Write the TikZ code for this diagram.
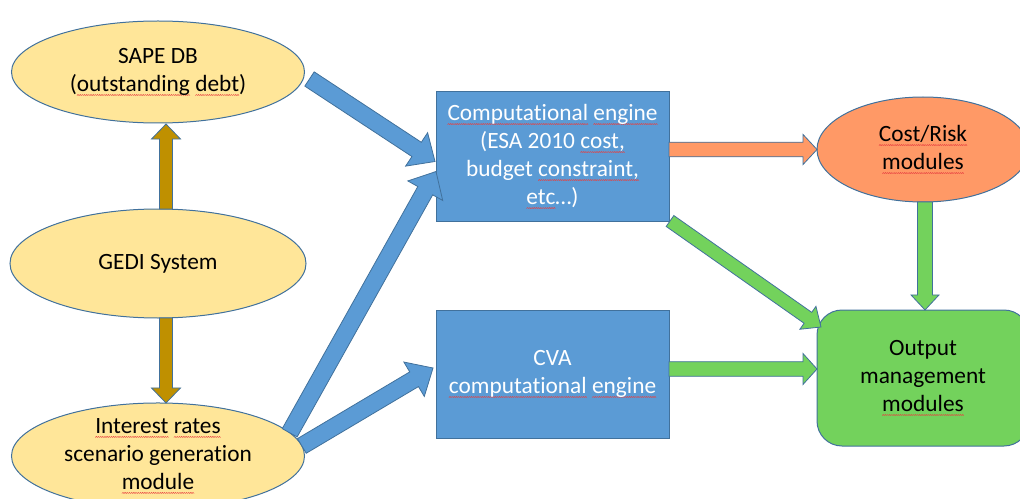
\documentclass[tikz,border=0pt]{standalone}
\usepackage{fontspec}
\setmainfont{Carlito}[Ligatures={NoCommon}]
\usetikzlibrary{shapes.geometric,calc}

\definecolor{sand}{HTML}{FFE699}
\definecolor{rim}{HTML}{41719C}
\definecolor{steel}{HTML}{5B9BD5}
\definecolor{ochre}{HTML}{BF9000}
\definecolor{apricot}{HTML}{FF9966}
\definecolor{leaf}{HTML}{73D25C}
\definecolor{squig}{HTML}{E84040}

% red wavy underline of the spell checker
\newsavebox\wavebox
\newcommand\sq[1]{\setbox0\hbox{#1}%
  \rlap{\lower3pt\hbox to\wd0{\xleaders\copy\wavebox\hfill}}\box0\relax}

% block arrow: style, from, to, shaft half width, head half width, head length
\newcommand\blockarrow[6]{%
  \path (#2) coordinate (ba-s) (#3) coordinate (ba-e);
  \path ($(ba-e)!#6!(ba-s)$) coordinate (ba-h);
  \draw[#1] ($(ba-s)!#4!90:(ba-e)$) -- ($(ba-h)!#4!-90:(ba-s)$)
    -- ($(ba-h)!#5!-90:(ba-s)$) -- (ba-e) -- ($(ba-h)!#5!90:(ba-s)$)
    -- ($(ba-h)!#4!90:(ba-s)$) -- ($(ba-s)!#4!-90:(ba-e)$) -- cycle;
}

\tikzset{
  base/.style={draw=rim, line width=0.75pt, inner sep=0pt, outer sep=0pt,
    align=center, font=\fontsize{17.5}{21}\selectfont},
  oval/.style={base, ellipse, fill=sand},
  engine/.style={base, rectangle, fill=steel, text=white},
  costnode/.style={base, ellipse, fill=apricot},
  outnode/.style={base, rectangle, rounded corners=18.75pt, fill=leaf},
  goldarr/.style={draw=rim, line width=0.6pt, fill=ochre, line join=miter},
  bluearr/.style={draw=rim, line width=0.6pt, fill=steel, line join=miter},
  orangearr/.style={draw=rim, line width=0.6pt, fill=apricot, line join=miter},
  greenarr/.style={draw=rim, line width=0.6pt, fill=leaf, line join=miter},
}

\begin{document}
\sbox\wavebox{\begin{pgfpicture}%
  \pgfpathmoveto{\pgfpointorigin}%
  \pgfpathlineto{\pgfpoint{0.8pt}{0.8pt}}%
  \pgfpathlineto{\pgfpoint{1.6pt}{0pt}}%
  \pgfsetstrokecolor{squig}\pgfsetlinewidth{0.35pt}%
  \pgfusepath{stroke}%
  \pgfresetboundingbox
  \pgfpathrectangle{\pgfpointorigin}{\pgfpoint{1.6pt}{0.8pt}}%
  \pgfusepath{use as bounding box}%
\end{pgfpicture}}%
\begin{tikzpicture}[x=0.75pt, y=-0.75pt]
\useasboundingbox (0,0) rectangle (1020,499);
\clip (0,0) rectangle (1020,499);

% sources
\node[oval, minimum width=293*0.75pt, minimum height=102*0.75pt] (sape) at (158,72)
  {SAPE DB\\(\sq{outstanding} \sq{debt})};
\node[oval, minimum width=296*0.75pt, minimum height=109*0.75pt] (gedi) at (158,263.5)
  {GEDI System};
\node[oval, minimum width=293*0.75pt, minimum height=106*0.75pt] (irate) at (158,456)
  {\sq{Interest} \sq{rates}\\scenario generation\\\sq{module}};

% engines
\node[engine, minimum width=233*0.75pt, minimum height=129*0.75pt] (comp) at (552.5,156.5)
  {\sq{Computational} \sq{engine}\\(ESA 2010 \sq{cost,}\\budget \sq{constraint,}\\\sq{etc}\dots)};
\node[engine, minimum width=233*0.75pt, minimum height=128*0.75pt] (cva) at (552.5,374)
  {CVA\\\sq{computational} \sq{engine}};

% results
\node[costnode, minimum width=212*0.75pt, minimum height=105*0.75pt] (cost) at (923,149.5)
  {\sq{Cost/Risk}\\\sq{modules}};
\node[outnode, minimum width=212*0.75pt, minimum height=136*0.75pt] (out) at (923,378)
  {Output\\management\\\sq{modules}};

% GEDI feeds
\blockarrow{goldarr}{$(gedi.north)+(8,0)$}{$(sape.south)+(8,1)$}{4.9pt}{10.9pt}{11.3pt}
\blockarrow{goldarr}{$(gedi.south)+(8,0)$}{$(irate.north)+(8,0)$}{4.9pt}{10.9pt}{11.3pt}

% inputs to the engines
\blockarrow{bluearr}{$(sape.east)+(5,7)$}{$(comp.west)+(-1,5)$}{6.4pt}{15pt}{16.5pt}
\blockarrow{bluearr}{irate.10}{$(comp.west)+(0,15)$}{6.4pt}{15pt}{16.5pt}
\blockarrow{bluearr}{irate.4}{$(cva.west)+(-3,-6)$}{6.4pt}{15pt}{16.5pt}

% engine outputs
\blockarrow{orangearr}{comp.east |- cost.west}{cost.west}{5.5pt}{11.3pt}{10.5pt}
\blockarrow{greenarr}{$(comp.south east)+(1,0)$}{$(out.north west)+(4,17)$}{5pt}{10.5pt}{12pt}
\blockarrow{greenarr}{$(cva.east)+(0,-5)$}{$(out.west)+(0,-9)$}{5.5pt}{11.6pt}{10.5pt}
\blockarrow{greenarr}{$(cost.south)+(2,0)$}{$(out.north)+(2,0)$}{5.6pt}{10.5pt}{11.3pt}
\end{tikzpicture}
\end{document}
